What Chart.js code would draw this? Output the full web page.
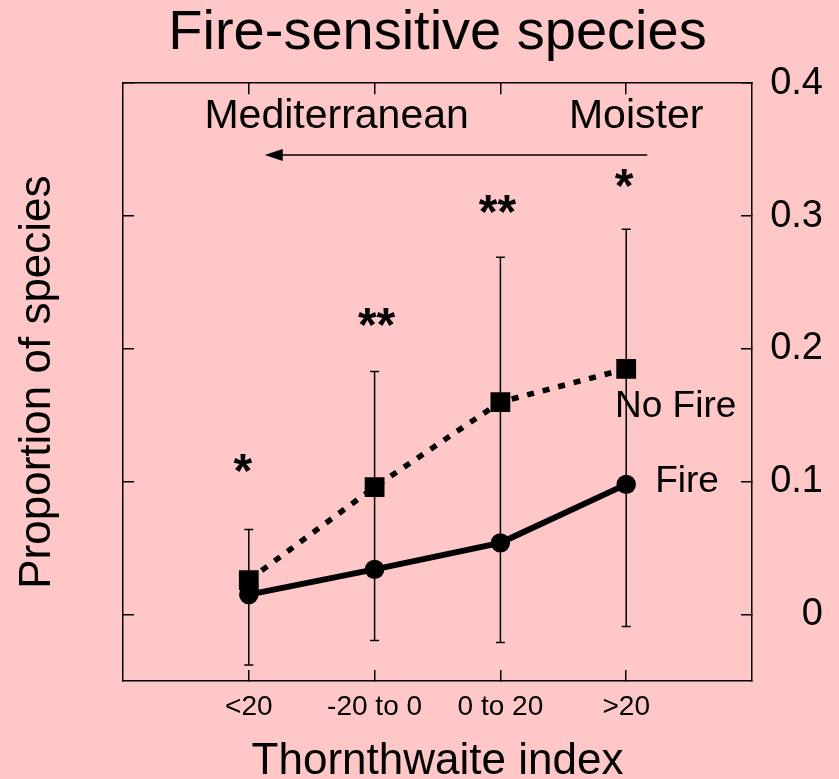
<!DOCTYPE html>
<html>
<head>
<meta charset="utf-8">
<script src="https://cdn.jsdelivr.net/npm/chart.js@4/dist/chart.umd.min.js"></script>
<style>
  html, body { margin: 0; padding: 0; background: #ffc7c7; }
</style>
</head>
<body>
<canvas id="chart" width="839" height="779"></canvas>
<script>
const categories = ['<20', '-20 to 0', '0 to 20', '>20']
const noFire = [0.026, 0.096, 0.160, 0.185]
const fire = [0.015, 0.034, 0.054, 0.098]
// error bars: upper end belongs to No Fire, lower end to Fire
const errTop = [0.064, 0.183, 0.269, 0.290]
const errBottom = [-0.038, -0.0195, -0.021, -0.009]
const yTicks = [0, 0.1, 0.2, 0.3, 0.4]
// [x, y, text] in data units
const stars = [[-0.048, 0.114, '*'], [1.016, 0.224, '**'], [1.976, 0.309, '**'], [2.984, 0.329, '*']]
const seriesLabels = [[3.393, 0.149, 'No Fire'], [3.484, 0.092, 'Fire']]
const gradientLabels = [[0.698, 0.366, 'Mediterranean'], [3.079, 0.366, 'Moister']]
const arrowFrom = [3.167, 0.346]
const arrowTo = [0.127, 0.346]

const BG = '#ffc7c7'
const FONT = '"Liberation Sans", Arial, Helvetica, sans-serif'
Chart.defaults.font.family = FONT
Chart.defaults.color = '#000'

const catTicks = categories.map((c, i) => ({ value: i }))

const background = {
	id: 'background',
	beforeDraw(chart) {
		const ctx = chart.ctx
		ctx.save()
		ctx.fillStyle = BG
		ctx.fillRect(0, 0, chart.width, chart.height)
		ctx.restore()
	}
}

const errorBars = {
	id: 'errorBars',
	beforeDatasetsDraw(chart) {
		const { ctx, scales: { x, y } } = chart
		ctx.save()
		ctx.strokeStyle = '#000'
		ctx.lineWidth = 1.5
		categories.forEach((c, i) => {
			const px = x.getPixelForValue(i)
			const top = y.getPixelForValue(errTop[i])
			const bot = y.getPixelForValue(errBottom[i])
			ctx.beginPath()
			ctx.moveTo(px, top); ctx.lineTo(px, bot)
			ctx.moveTo(px - 4.5, top); ctx.lineTo(px + 4.5, top)
			ctx.moveTo(px - 4.5, bot); ctx.lineTo(px + 4.5, bot)
			ctx.stroke()
		})
		ctx.restore()
	}
}

function centeredText(ctx, text, px, py) {
	// py is the visual centre of the glyphs
	const m = ctx.measureText(text)
	ctx.fillText(text, px, py + (m.actualBoundingBoxAscent - m.actualBoundingBoxDescent) / 2)
}

const annotations = {
	id: 'annotations',
	afterDatasetsDraw(chart) {
		const { ctx, scales: { x, y } } = chart
		ctx.save()
		ctx.fillStyle = '#000'
		ctx.strokeStyle = '#000'
		ctx.textAlign = 'center'
		ctx.textBaseline = 'alphabetic'

		ctx.font = 'bold 48px ' + FONT
		stars.forEach(([sx, sy, t]) => centeredText(ctx, t, x.getPixelForValue(sx), y.getPixelForValue(sy)))

		ctx.font = '37px ' + FONT
		seriesLabels.forEach(([lx, ly, t]) => ctx.fillText(t, x.getPixelForValue(lx), y.getPixelForValue(ly)))

		ctx.font = '41px ' + FONT
		gradientLabels.forEach(([lx, ly, t]) => ctx.fillText(t, x.getPixelForValue(lx), y.getPixelForValue(ly)))

		// arrow pointing towards the Mediterranean end
		const x0 = x.getPixelForValue(arrowFrom[0]), y0 = y.getPixelForValue(arrowFrom[1])
		const x1 = x.getPixelForValue(arrowTo[0]), y1 = y.getPixelForValue(arrowTo[1])
		ctx.lineWidth = 1.5
		ctx.beginPath()
		ctx.moveTo(x0, y0); ctx.lineTo(x1 + 10, y1)
		ctx.stroke()
		ctx.beginPath()
		ctx.moveTo(x1, y1); ctx.lineTo(x1 + 18, y1 - 6); ctx.lineTo(x1 + 18, y1 + 6)
		ctx.closePath()
		ctx.fill()
		ctx.restore()
	}
}

const tickGrid = {
	display: true,
	drawOnChartArea: false,
	drawTicks: true,
	tickLength: -11,
	color: '#000',
	lineWidth: 1.5
}
const frame = { display: true, color: '#000', width: 1.5 }

const config = {
	type: 'line',
	data: {
		datasets: [
			{
				label: 'No Fire',
				data: noFire.map((v, i) => ({ x: i, y: v })),
				borderColor: '#000',
				backgroundColor: '#000',
				borderWidth: 5.5,
				borderDash: [7, 9],
				borderCapStyle: 'butt',
				pointStyle: 'rect',
				pointRadius: 14,
				pointBorderWidth: 0,
				tension: 0
			},
			{
				label: 'Fire',
				data: fire.map((v, i) => ({ x: i, y: v })),
				borderColor: '#000',
				backgroundColor: '#000',
				borderWidth: 6,
				pointStyle: 'circle',
				pointRadius: 9.7,
				pointBorderWidth: 0,
				tension: 0
			}
		]
	},
	options: {
		responsive: false,
		animation: false,
		layout: { padding: { left: 0, top: 0, bottom: 0, right: 16 } },
		plugins: {
			legend: { display: false },
			tooltip: { enabled: false },
			title: {
				display: true,
				fullSize: false,
				text: 'Fire-sensitive species',
				color: '#000',
				font: { size: 56, weight: 'normal', lineHeight: 1.2 },
				padding: { top: 0, bottom: 16 }
			}
		},
		scales: {
			x: {
				type: 'linear',
				position: 'bottom',
				min: -1,
				max: 4,
				afterBuildTicks: (s) => { s.ticks = catTicks.map(t => ({ ...t })) },
				afterFit: (s) => { s.height = 98 },
				ticks: {
					callback: (v) => categories[v],
					font: { size: 28 },
					padding: 20,
					maxRotation: 0,
					autoSkip: false
				},
				grid: tickGrid,
				border: frame,
				title: {
					display: true,
					text: 'Thornthwaite index',
					font: { size: 44, lineHeight: 0.78 },
					padding: 0
				}
			},
			xTop: {
				type: 'linear',
				position: 'top',
				min: -1,
				max: 4,
				afterBuildTicks: (s) => { s.ticks = catTicks.map(t => ({ ...t })) },
				afterFit: (s) => { s.height = 0 },
				ticks: { display: false },
				grid: tickGrid,
				border: frame
			},
			y: {
				position: 'left',
				min: -0.05,
				max: 0.4,
				afterBuildTicks: (s) => { s.ticks = yTicks.map(v => ({ value: v })) },
				afterFit: (s) => { s.width = 123 },
				ticks: { display: false },
				grid: tickGrid,
				border: frame,
				title: {
					display: true,
					text: 'Proportion of species',
					font: { size: 44, lineHeight: 1.2 },
					padding: { top: 11.6, bottom: 0 }
				}
			},
			yRight: {
				position: 'right',
				min: -0.05,
				max: 0.4,
				afterBuildTicks: (s) => { s.ticks = yTicks.map(v => ({ value: v })) },
				afterFit: (s) => { s.width = 71 },
				ticks: {
					callback: (v) => v === 0 ? '0' : v.toFixed(1),
					font: { size: 38 },
					padding: 7,
					crossAlign: 'far'
				},
				grid: tickGrid,
				border: frame
			}
		}
	},
	plugins: [background, errorBars, annotations]
}

new Chart(document.getElementById('chart'), config)
</script>
</body>
</html>
